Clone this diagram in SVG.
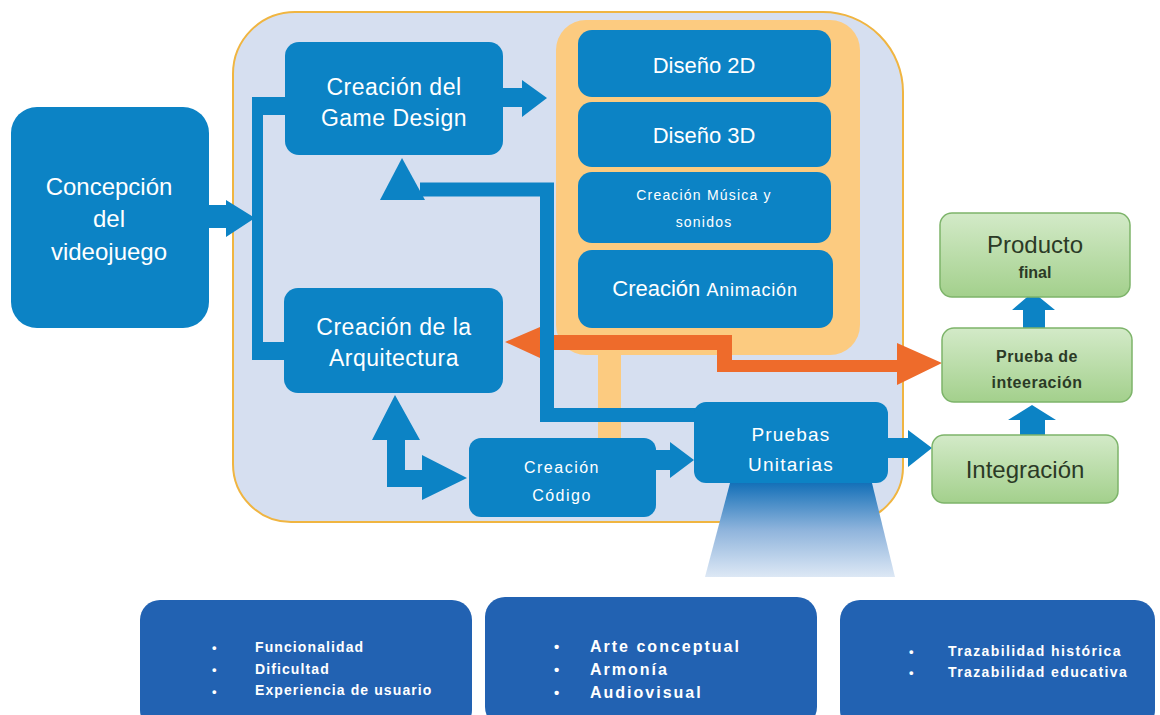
<svg xmlns="http://www.w3.org/2000/svg" width="1160" height="715" viewBox="0 0 1160 715">
  <defs>
    <style>
      .bx { fill: #0c83c5; }
      .bb { fill: #2262b2; }
      .gb { fill: url(#gg); stroke: #7db46a; stroke-width: 1.5; }
      .conn { fill: #0c83c5; }
      .t { font-family: "Liberation Sans", Arial, sans-serif; fill: #ffffff; text-anchor: middle; }
      .g { font-family: "Liberation Sans", Arial, sans-serif; fill: #2b3a26; text-anchor: middle; }
      .l { font-family: "Liberation Sans", Arial, sans-serif; fill: #ffffff; font-weight: bold; }
    </style>
    <linearGradient id="gg" x1="0" y1="0" x2="0" y2="1">
      <stop offset="0" stop-color="#d3eac8"/>
      <stop offset="1" stop-color="#a3d08c"/>
    </linearGradient>
    <linearGradient id="tg" x1="0" y1="0" x2="0" y2="1">
      <stop offset="0" stop-color="#1470b8"/>
      <stop offset="0.5" stop-color="#8fb4dc"/>
      <stop offset="1" stop-color="#dde8f5"/>
    </linearGradient>
  </defs>
  <rect width="1160" height="715" fill="#ffffff"/>

  <g id="container">
    <path d="M295,12 H823 A80,80 0 0 1 903,92 V467 A55,55 0 0 1 848,522 H291 A58,58 0 0 1 233,464 V74 A62,62 0 0 1 295,12 Z" fill="#d6dff0" stroke="#f0b541" stroke-width="2"/>
  </g>

  <g id="art-group">
    <rect x="556" y="20" width="304" height="335" rx="30" fill="#fccb80"/>
    <rect x="598" y="340" width="23" height="98" fill="#fccb80"/>
  </g>

  <g id="trapezoid">
    <polygon points="730,483 872,483 895,577 705,577" fill="url(#tg)"/>
  </g>

  <g id="connectors">
    <polygon points="505,342 540,327 540,335 732,335 732,360 897,360 897,343 942,363 897,385 897,372 717,372 717,350 540,350 540,358" fill="#ee6b2b"/>
    <polygon class="conn" points="207,205 226,205 226,200 255,218 226,237 226,228 207,228"/>
    <polygon class="conn" points="285,97 252,97 252,360 285,360 285,342 263,342 263,115 285,115"/>
    <polygon class="conn" points="500,88 522,88 522,80 547,98 522,117 522,107 500,107"/>
    <polygon class="conn" points="402,158 380,200 425,200"/>
    <polyline points="420,189.5 547,189.5 547,415 697,415" fill="none" stroke="#0c83c5" stroke-width="14"/>
    <polygon class="conn" points="395,395 420,440 405,440 405,470 422,470 422,455 467,478 422,500 422,487 387,487 387,440 372,440"/>
    <polygon class="conn" points="654,450 670,450 670,442 694,460 670,478 670,470 654,470"/>
    <polygon class="conn" points="885,438 908,438 908,430 932,448 908,467 908,458 885,458"/>
    <polygon class="conn" points="1023,328 1023,310 1012,310 1033,292 1055,310 1045,310 1045,328"/>
    <polygon class="conn" points="1020,435 1020,420 1008,420 1032,405 1056,420 1045,420 1045,435"/>
  </g>

  <g id="concepcion">
    <rect class="bx" x="11" y="107" width="198" height="221" rx="26"/>
    <text class="t" font-size="24" x="109" y="195">Concepción</text>
    <text class="t" font-size="24" x="109" y="227">del</text>
    <text class="t" font-size="24" x="109" y="260">videojuego</text>
  </g>

  <g id="game-design">
    <rect class="bx" x="285" y="42" width="218" height="113" rx="14"/>
    <text class="t" font-size="23" x="394" y="95" letter-spacing="0.5">Creación del</text>
    <text class="t" font-size="23" x="394" y="126" letter-spacing="0.5">Game Design</text>
  </g>

  <g id="arquitectura">
    <rect class="bx" x="284" y="288" width="219" height="105" rx="14"/>
    <text class="t" font-size="23" x="394" y="335" letter-spacing="0.5">Creación de la</text>
    <text class="t" font-size="23" x="394" y="366" letter-spacing="0.5">Arquitectura</text>
  </g>

  <g id="diseno-2d">
    <rect class="bx" x="578" y="30" width="253" height="67" rx="14"/>
    <text class="t" font-size="22" x="704" y="73">Diseño 2D</text>
  </g>

  <g id="diseno-3d">
    <rect class="bx" x="578" y="102" width="253" height="65" rx="14"/>
    <text class="t" font-size="22" x="704" y="143">Diseño 3D</text>
  </g>

  <g id="musica">
    <rect class="bx" x="578" y="172" width="253" height="71" rx="14"/>
    <text class="t" font-size="14" x="704" y="200" letter-spacing="1.2">Creación  Música y</text>
    <text class="t" font-size="14" x="704" y="227" letter-spacing="1.2">sonidos</text>
  </g>

  <g id="animacion">
    <rect class="bx" x="578" y="250" width="255" height="78" rx="14"/>
    <text class="t" x="705" y="296"><tspan font-size="22">Creación </tspan><tspan font-size="18" letter-spacing="0.8">Animación</tspan></text>
  </g>

  <g id="codigo">
    <rect class="bx" x="469" y="438" width="187" height="79" rx="12"/>
    <text class="t" font-size="16" x="562" y="473" letter-spacing="1.5">Creación</text>
    <text class="t" font-size="16" x="562" y="501" letter-spacing="1.5">Código</text>
  </g>

  <g id="pruebas-unitarias">
    <rect class="bx" x="694" y="402" width="194" height="81" rx="12"/>
    <text class="t" font-size="19" x="791" y="441" letter-spacing="1.2">Pruebas</text>
    <text class="t" font-size="19" x="791" y="471" letter-spacing="1.2">Unitarias</text>
  </g>

  <g id="producto-final">
    <rect class="gb" x="940" y="213" width="190" height="84" rx="12"/>
    <text class="g" font-size="24" x="1035" y="253">Producto</text>
    <text class="g" font-size="16" font-weight="bold" x="1035" y="278">final</text>
  </g>

  <g id="prueba-integracion">
    <rect class="gb" x="942" y="328" width="190" height="74" rx="12"/>
    <text class="g" font-size="16" font-weight="bold" x="1037" y="362" letter-spacing="0.5">Prueba de</text>
    <text class="g" font-size="16" font-weight="bold" x="1037" y="388" letter-spacing="0.5">inteeración</text>
  </g>

  <g id="integracion">
    <rect class="gb" x="932" y="435" width="186" height="68" rx="12"/>
    <text class="g" font-size="24" x="1025" y="478">Integración</text>
  </g>

  <g id="criterios-1">
    <rect class="bb" x="140" y="600" width="332" height="130" rx="20"/>
    <text class="l" font-size="13" x="212" y="652">•</text>
    <text class="l" font-size="13" x="212" y="674">•</text>
    <text class="l" font-size="13" x="212" y="696">•</text>
    <text class="l" font-size="14" x="255" y="652" letter-spacing="1.1">Funcionalidad</text>
    <text class="l" font-size="14" x="255" y="674" letter-spacing="1.1">Dificultad</text>
    <text class="l" font-size="14" x="255" y="695" letter-spacing="1.1">Experiencia de usuario</text>
  </g>

  <g id="criterios-2">
    <rect class="bb" x="485" y="597" width="332" height="130" rx="20"/>
    <text class="l" font-size="15" x="554" y="652">•</text>
    <text class="l" font-size="15" x="554" y="675">•</text>
    <text class="l" font-size="15" x="554" y="698">•</text>
    <text class="l" font-size="16" x="590" y="652" letter-spacing="2">Arte conceptual</text>
    <text class="l" font-size="16" x="590" y="675" letter-spacing="2">Armonía</text>
    <text class="l" font-size="16" x="590" y="698" letter-spacing="2">Audiovisual</text>
  </g>

  <g id="criterios-3">
    <rect class="bb" x="840" y="600" width="315" height="130" rx="20"/>
    <text class="l" font-size="13" x="909" y="656">•</text>
    <text class="l" font-size="13" x="909" y="677">•</text>
    <text class="l" font-size="14" x="948" y="656" letter-spacing="1.4">Trazabilidad histórica</text>
    <text class="l" font-size="14" x="948" y="677" letter-spacing="1.4">Trazabilidad educativa</text>
  </g>
</svg>
